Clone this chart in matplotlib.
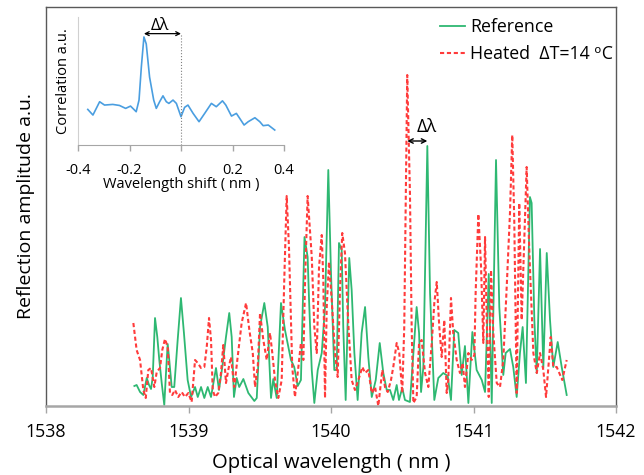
import matplotlib
matplotlib.use('Agg')
import matplotlib.pyplot as plt

plt.rcParams['font.family'] = ['Open Sans', 'DejaVu Sans']

# reference spectrum (nm, a.u.)
ref_wl = [1538.620, 1538.636, 1538.660, 1538.683, 1538.707, 1538.723, 1538.737, 1538.749,
          1538.765, 1538.781, 1538.795, 1538.812, 1538.830, 1538.842, 1538.854, 1538.865,
          1538.882, 1538.900, 1538.924, 1538.947, 1538.968, 1538.994, 1539.018, 1539.046,
          1539.065, 1539.088, 1539.111, 1539.135, 1539.158, 1539.193, 1539.214, 1539.237,
          1539.263, 1539.286, 1539.303, 1539.319, 1539.338, 1539.356, 1539.385, 1539.420,
          1539.462, 1539.479, 1539.502, 1539.532, 1539.556, 1539.579, 1539.595, 1539.619,
          1539.649, 1539.677, 1539.719, 1539.742, 1539.766, 1539.789, 1539.814, 1539.836,
          1539.846, 1539.865, 1539.883, 1539.907, 1539.935, 1539.958, 1539.981, 1540.000,
          1540.023, 1540.040, 1540.056, 1540.075, 1540.086, 1540.103, 1540.128, 1540.145,
          1540.164, 1540.187, 1540.215, 1540.239, 1540.262, 1540.286, 1540.314, 1540.342,
          1540.367, 1540.391, 1540.414, 1540.437, 1540.461, 1540.477, 1540.500, 1540.519,
          1540.554, 1540.578, 1540.601, 1540.618, 1540.632, 1540.648, 1540.676, 1540.695,
          1540.725, 1540.753, 1540.788, 1540.819, 1540.842, 1540.865, 1540.893, 1540.917,
          1540.940, 1540.964, 1540.992, 1541.022, 1541.058, 1541.081, 1541.107, 1541.128,
          1541.158, 1541.181, 1541.209, 1541.226, 1541.256, 1541.279, 1541.303, 1541.326,
          1541.345, 1541.368, 1541.396, 1541.408, 1541.427, 1541.444, 1541.467, 1541.490,
          1541.514, 1541.537, 1541.560, 1541.591, 1541.619, 1541.654]
ref_amp = [20, 21, 14, 11, 28, 21, 17, 29,
           88, 69, 46, 23, 1, 33, 62, 46,
           19, 19, 66, 108, 73, 26, 9, 19,
           9, 19, 8, 19, 9, 38, 16, 39,
           69, 93, 69, 9, 28, 19, 27, 13,
           5, 8, 79, 103, 79, 8, 27, 8,
           103, 76, 46, 39, 20, 26, 169, 149,
           106, 36, 3, 36, 53, 99, 236, 133,
           36, 36, 163, 156, 79, 6, 148, 116,
           53, 6, 73, 99, 49, 9, 26, 63,
           33, 16, 16, 6, 21, 6, 18, 6,
           4, 53, 99, 73, 14, 39, 260, 113,
           6, 28, 33, 30, 6, 76, 73, 31,
           60, 3, 74, 36, 26, 14, 132, 3,
           246, 99, 31, 53, 57, 39, 9, 53,
           79, 23, 209, 203, 86, 33, 157, 38,
           153, 86, 39, 64, 39, 11]

# heated spectrum, dT = 14 C (nm, a.u.)
heat_wl = [1538.613, 1538.636, 1538.660, 1538.683, 1538.700, 1538.718, 1538.737, 1538.760,
           1538.777, 1538.800, 1538.816, 1538.835, 1538.854, 1538.870, 1538.886, 1538.905,
           1538.928, 1538.952, 1538.975, 1538.999, 1539.022, 1539.046, 1539.065, 1539.088,
           1539.111, 1539.128, 1539.144, 1539.158, 1539.170, 1539.186, 1539.209, 1539.228,
           1539.244, 1539.263, 1539.279, 1539.298, 1539.321, 1539.345, 1539.373, 1539.404,
           1539.427, 1539.451, 1539.467, 1539.486, 1539.502, 1539.525, 1539.549, 1539.572,
           1539.588, 1539.607, 1539.630, 1539.654, 1539.672, 1539.689, 1539.705, 1539.728,
           1539.747, 1539.771, 1539.789, 1539.806, 1539.818, 1539.836, 1539.865, 1539.883,
           1539.900, 1539.916, 1539.935, 1539.946, 1539.958, 1539.970, 1539.986, 1540.005,
           1540.028, 1540.047, 1540.063, 1540.079, 1540.098, 1540.121, 1540.145, 1540.168,
           1540.192, 1540.220, 1540.239, 1540.262, 1540.286, 1540.309, 1540.332, 1540.360,
           1540.379, 1540.398, 1540.421, 1540.437, 1540.461, 1540.479, 1540.500, 1540.514,
           1540.535, 1540.554, 1540.566, 1540.578, 1540.601, 1540.618, 1540.636, 1540.660,
           1540.683, 1540.707, 1540.725, 1540.742, 1540.760, 1540.777, 1540.795, 1540.812,
           1540.823, 1540.842, 1540.858, 1540.882, 1540.905, 1540.924, 1540.940, 1540.964,
           1540.987, 1541.006, 1541.015, 1541.034, 1541.053, 1541.069, 1541.081, 1541.093,
           1541.107, 1541.123, 1541.139, 1541.163, 1541.186, 1541.209, 1541.233, 1541.256,
           1541.272, 1541.286, 1541.303, 1541.321, 1541.338, 1541.373, 1541.392, 1541.420,
           1541.444, 1541.467, 1541.490, 1541.509, 1541.542, 1541.560, 1541.584, 1541.623,
           1541.654]
heat_amp = [83, 56, 46, 16, 8, 36, 38, 19,
            34, 38, 56, 67, 59, 13, 11, 16,
            9, 14, 9, 13, 4, 46, 43, 38,
            39, 59, 88, 66, 16, 9, 13, 33,
            61, 23, 36, 49, 19, 49, 83, 103,
            76, 53, 19, 39, 93, 66, 46, 73,
            53, 26, 8, 26, 126, 210, 159, 39,
            9, 39, 63, 46, 126, 210, 149, 79,
            53, 139, 171, 126, 8, 99, 144, 106,
            53, 29, 116, 173, 153, 83, 26, 16,
            26, 39, 33, 36, 13, 19, 0, 36,
            19, 14, 26, 39, 63, 53, 13, 79,
            331, 213, 79, 3, 9, 63, 66, 33,
            19, 63, 103, 124, 79, 49, 86, 13,
            26, 108, 73, 46, 33, 43, 19, 53,
            46, 51, 113, 192, 139, 63, 169, 86,
            9, 136, 73, 23, 19, 46, 119, 193,
            271, 186, 13, 203, 86, 239, 153, 53,
            33, 53, 36, 9, 69, 39, 39, 26,
            46]

# inset: cross-correlation vs wavelength shift
shift_nm = [-0.362, -0.342, -0.316, -0.297, -0.265, -0.239, -0.215, -0.196, -0.174, -0.163,
            -0.154, -0.144, -0.135, -0.122, -0.106, -0.096, -0.083, -0.070, -0.057, -0.047,
            -0.031, -0.018, 0.0, 0.014, 0.027, 0.047, 0.070, 0.092, 0.118, 0.137,
            0.161, 0.174, 0.196, 0.215, 0.228, 0.245, 0.261, 0.287, 0.306, 0.319,
            0.339, 0.364]
corr = [0.278, 0.234, 0.338, 0.312, 0.317, 0.309, 0.286, 0.304, 0.260, 0.351,
        0.610, 0.844, 0.790, 0.530, 0.351, 0.286, 0.338, 0.384, 0.338, 0.325,
        0.351, 0.325, 0.221, 0.294, 0.312, 0.247, 0.182, 0.247, 0.325, 0.299,
        0.345, 0.312, 0.226, 0.247, 0.208, 0.156, 0.182, 0.213, 0.182, 0.151,
        0.156, 0.117]

wl_ticks = [1538, 1539, 1540, 1541, 1542]
shift_ticks = [-0.4, -0.2, 0, 0.2, 0.4]
shift_labels = ['-0.4', '-0.2', '0', '0.2', '0.4']
peak_shift = -0.144

GREEN = '#2eb872'
RED = '#ff3b3b'
BLUE = '#4a9ee0'

fig = plt.figure(figsize=(6.44, 4.75), dpi=100)
ax = fig.add_axes([46 / 644, 1 - 406 / 475, 570 / 644, 399 / 475])

ax.plot(ref_wl, ref_amp, color=GREEN, lw=1.3, label='Reference')
ax.plot(heat_wl, heat_amp, color=RED, lw=1.5, ls=(0, (2, 1.3)), label='Heated  ΔT=14 ᵒC')

ax.set_xlim(1538, 1542)
ax.set_ylim(0, 399)
ax.set_yticks([])
ax.set_xticks(wl_ticks)
ax.tick_params(axis='x', direction='out', length=5, width=1, color='#a6a6a6',
               labelsize=12.8, pad=7)
ax.set_xlabel('Optical wavelength ( nm )', fontsize=14.6, labelpad=9)
ax.set_ylabel('Reflection amplitude a.u.', fontsize=14, labelpad=8)
for side in ['left', 'top', 'right']:
    ax.spines[side].set_color('#595959')
    ax.spines[side].set_linewidth(1)
ax.spines['bottom'].set_color('#a6a6a6')
ax.spines['bottom'].set_linewidth(1.8)

# wavelength shift between the two main peaks
ax.annotate('', xy=(1540.535, 265), xytext=(1540.676, 265),
            arrowprops=dict(arrowstyle='<->', color='black', lw=1,
                            shrinkA=0, shrinkB=0, mutation_scale=8))
ax.text(1540.674, 279, 'Δλ', ha='center', va='center', fontsize=13)

ax.legend(loc='upper left', bbox_to_anchor=(440 / 644, 1 - 18 / 475),
          bbox_transform=fig.transFigure, frameon=False, fontsize=12.8,
          handlelength=1.4, handletextpad=0.3, borderpad=0, borderaxespad=0,
          labelspacing=0.5)

# inset
axin = fig.add_axes([78 / 644, 1 - 145 / 475, 206 / 644, 128 / 475])
axin.patch.set_alpha(0)
axin.plot(shift_nm, corr, color=BLUE, lw=1.2)
axin.set_xlim(-0.4, 0.4)
axin.set_ylim(0, 1)
axin.set_yticks([])
axin.set_xticks(shift_ticks)
axin.set_xticklabels(shift_labels)
axin.tick_params(axis='x', direction='out', length=4, width=1, color='#a6a6a6',
                 labelsize=10.5, pad=9)
axin.set_xlabel('Wavelength shift ( nm )', fontsize=10.5, labelpad=-1)
axin.set_ylabel('Correlation a.u.', fontsize=10.5, labelpad=5)
axin.spines['top'].set_visible(False)
axin.spines['right'].set_visible(False)
axin.spines['left'].set_color('#d0d0d0')
axin.spines['bottom'].set_color('#a6a6a6')
axin.axvline(0, ymax=0.87, color='#808080', ls=':', lw=0.8)
axin.annotate('', xy=(peak_shift, 0.87), xytext=(0, 0.87),
              arrowprops=dict(arrowstyle='<->', color='black', lw=0.9,
                              shrinkA=0, shrinkB=0, mutation_scale=7))
axin.text(-0.08, 0.93, 'Δλ', ha='center', va='center', fontsize=12)

fig.savefig('out.png', dpi=100)
